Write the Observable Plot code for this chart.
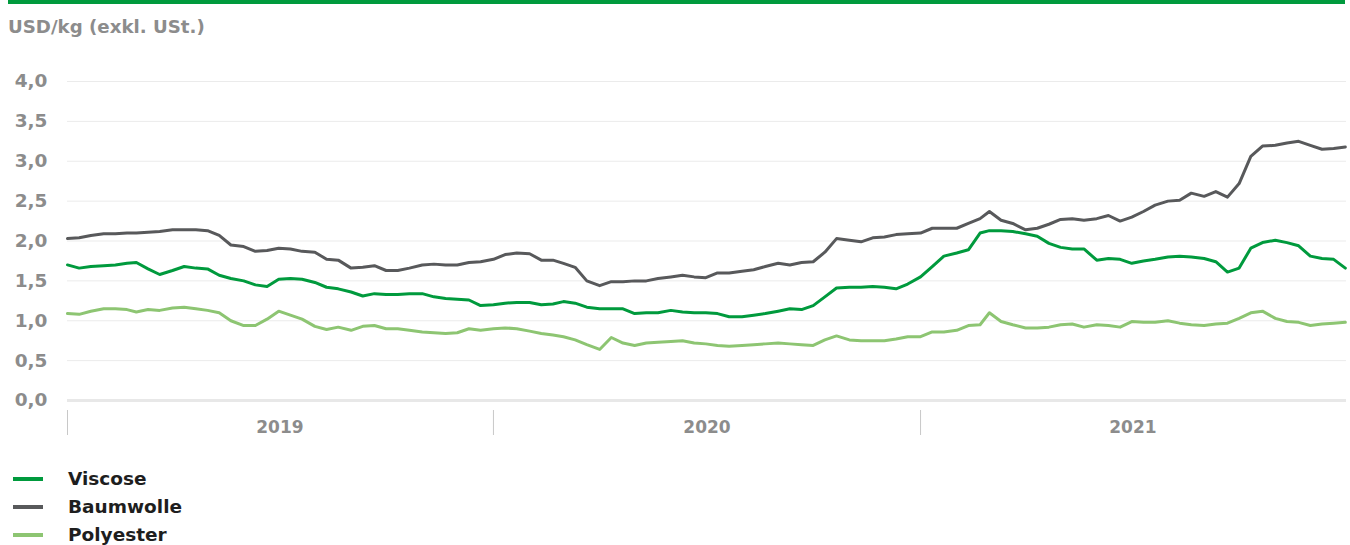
<!DOCTYPE html>
<html>
<head>
<meta charset="utf-8">
<script src="https://cdn.jsdelivr.net/npm/d3@7"></script>
<script src="https://cdn.jsdelivr.net/npm/@observablehq/plot@0.6"></script>
<style>
  html, body { margin: 0; padding: 0; background: #fff; }
  body { width: 1350px; height: 545px; position: relative; overflow: hidden; font-family: "DejaVu Sans", sans-serif; }
  #topbar { position: absolute; left: 8px; top: 0; width: 1337px; height: 4px; background: #009a3d; }
  #title { position: absolute; left: 8px; top: 16px; font-size: 18.2px; line-height: 22px; font-weight: bold; color: #8c8c8c; }
  #chart { position: absolute; left: 0; top: 60px; }
  #legend { position: absolute; left: 0; top: 465px; }
  .item { position: relative; height: 28px; }
  .sw { position: absolute; left: 13px; top: 12px; width: 30px; height: 4px; }
  .lab { position: absolute; left: 68px; top: 1px; font-size: 18.5px; font-weight: bold; color: #1e1e1e; line-height: 26px; }
</style>
</head>
<body>
<div id="topbar"></div>
<div id="title">USD/kg (exkl. USt.)</div>
<div id="chart"></div>
<div id="legend"></div>
<script>
const dates = [
"2019-01-01","2019-01-11","2019-01-21","2019-02-01","2019-02-11","2019-02-21","2019-03-01","2019-03-11","2019-03-21","2019-04-01","2019-04-11","2019-04-21",
"2019-05-01","2019-05-11","2019-05-21","2019-06-01","2019-06-11","2019-06-21","2019-07-01","2019-07-11","2019-07-21","2019-08-01","2019-08-11","2019-08-21",
"2019-09-01","2019-09-11","2019-09-21","2019-10-01","2019-10-11","2019-10-21","2019-11-01","2019-11-11","2019-11-21","2019-12-01","2019-12-11","2019-12-21",
"2020-01-01","2020-01-11","2020-01-21","2020-02-01","2020-02-11","2020-02-21","2020-03-01","2020-03-11","2020-03-21","2020-04-01","2020-04-11","2020-04-21",
"2020-05-01","2020-05-11","2020-05-21","2020-06-01","2020-06-11","2020-06-21","2020-07-01","2020-07-11","2020-07-21","2020-08-01","2020-08-11","2020-08-21",
"2020-09-01","2020-09-11","2020-09-21","2020-10-01","2020-10-11","2020-10-21","2020-11-01","2020-11-11","2020-11-21","2020-12-01","2020-12-11","2020-12-21",
"2021-01-01","2021-01-11","2021-01-21","2021-02-01","2021-02-11","2021-02-21","2021-03-01","2021-03-11","2021-03-21","2021-04-01","2021-04-11","2021-04-21",
"2021-05-01","2021-05-11","2021-05-21","2021-06-01","2021-06-11","2021-06-21","2021-07-01","2021-07-11","2021-07-21","2021-08-01","2021-08-11","2021-08-21",
"2021-09-01","2021-09-11","2021-09-21","2021-10-01","2021-10-11","2021-10-21","2021-11-01","2021-11-11","2021-11-21","2021-12-01","2021-12-11","2021-12-21",
"2021-12-31"
];

const viscose = [
1.70,1.66,1.68,1.69,1.70,1.72,1.73,1.65,1.58,1.63,1.68,1.66,
1.65,1.57,1.53,1.50,1.45,1.43,1.52,1.53,1.52,1.48,1.42,1.40,
1.36,1.31,1.34,1.33,1.33,1.34,1.34,1.30,1.28,1.27,1.26,1.19,
1.20,1.22,1.23,1.23,1.20,1.21,1.24,1.22,1.17,1.15,1.15,1.15,
1.09,1.10,1.10,1.13,1.11,1.10,1.10,1.09,1.05,1.05,1.07,1.09,
1.12,1.15,1.14,1.19,1.30,1.41,1.42,1.42,1.43,1.42,1.40,1.46,
1.55,1.68,1.81,1.85,1.89,2.10,2.13,2.13,2.12,2.09,2.06,1.97,
1.92,1.90,1.90,1.76,1.78,1.77,1.72,1.75,1.77,1.80,1.81,1.80,
1.78,1.74,1.61,1.66,1.91,1.98,2.01,1.98,1.94,1.81,1.78,1.77,
1.66
];

const baumwolle = [
2.03,2.04,2.07,2.09,2.09,2.10,2.10,2.11,2.12,2.14,2.14,2.14,
2.13,2.07,1.95,1.93,1.87,1.88,1.91,1.90,1.87,1.86,1.77,1.76,
1.66,1.67,1.69,1.63,1.63,1.66,1.70,1.71,1.70,1.70,1.73,1.74,
1.77,1.83,1.85,1.84,1.76,1.76,1.72,1.67,1.50,1.44,1.49,1.49,
1.50,1.50,1.53,1.55,1.57,1.55,1.54,1.60,1.60,1.62,1.64,1.68,
1.72,1.70,1.73,1.74,1.86,2.03,2.01,1.99,2.04,2.05,2.08,2.09,
2.10,2.16,2.16,2.16,2.22,2.28,2.37,2.26,2.22,2.14,2.16,2.21,
2.27,2.28,2.26,2.28,2.32,2.25,2.30,2.37,2.45,2.50,2.51,2.60,
2.56,2.62,2.55,2.72,3.06,3.19,3.20,3.23,3.25,3.20,3.15,3.16,
3.18
];

const polyester = [
1.09,1.08,1.12,1.15,1.15,1.14,1.11,1.14,1.13,1.16,1.17,1.15,
1.13,1.10,1.00,0.94,0.94,1.02,1.12,1.07,1.02,0.93,0.89,0.92,
0.88,0.93,0.94,0.90,0.90,0.88,0.86,0.85,0.84,0.85,0.90,0.88,
0.90,0.91,0.90,0.87,0.84,0.82,0.80,0.76,0.70,0.64,0.79,0.72,
0.69,0.72,0.73,0.74,0.75,0.72,0.71,0.69,0.68,0.69,0.70,0.71,
0.72,0.71,0.70,0.69,0.76,0.81,0.76,0.75,0.75,0.75,0.77,0.80,
0.80,0.86,0.86,0.88,0.94,0.95,1.10,0.99,0.95,0.91,0.91,0.92,
0.95,0.96,0.92,0.95,0.94,0.92,0.99,0.98,0.98,1.00,0.97,0.95,
0.94,0.96,0.97,1.03,1.10,1.12,1.03,0.99,0.98,0.94,0.96,0.97,
0.98
];

const seriesNames = ["Viscose", "Baumwolle", "Polyester"];
const seriesColors = ["#009a3d", "#58595b", "#8dc572"];
const yTicks = [0, 0.5, 1, 1.5, 2, 2.5, 3, 3.5, 4];
const yearStarts = ["2019-01-01", "2020-01-01", "2021-01-01"];
const yearLabelPos = ["2019-07-02", "2020-07-02", "2021-07-02"];
const yearLabels = ["2019", "2020", "2021"];

const parse = d3.utcParse("%Y-%m-%d");
const valuesBySeries = [viscose, baumwolle, polyester];
const rows = [];
// draw order: Polyester, Viscose, Baumwolle on top
[2, 0, 1].forEach(si => {
  dates.forEach((d, i) => rows.push({date: parse(d), value: valuesBySeries[si][i], series: seriesNames[si]}));
});

const fmt = v => d3.format(".1f")(v).replace(".", ",");

const chart = Plot.plot({
  width: 1350,
  height: 385,
  marginTop: 21,
  marginLeft: 67,
  marginRight: 4,
  marginBottom: 35,
  insetBottom: 10,
  style: {fontFamily: "'DejaVu Sans', sans-serif", background: "transparent", overflow: "visible"},
  x: {type: "utc", domain: [parse("2019-01-01"), parse("2022-01-01")]},
  y: {domain: [0, 4]},
  color: {domain: seriesNames, range: seriesColors},
  marks: [
    Plot.gridY(yTicks.filter(t => t > 0), {stroke: "#ebebeb", strokeOpacity: 1, strokeWidth: 1}),
    Plot.ruleY([0], {stroke: "#e8e8e8", strokeWidth: 3}),
    Plot.axisY(yTicks, {tickSize: 0, tickPadding: 20, tickFormat: fmt, fontSize: 18.5, fontWeight: "bold", fill: "#8c8c8c", label: null}),
    Plot.axisX(yearStarts.map(parse), {tickSize: 25, tickFormat: () => "", stroke: "#c8c8c8", strokeWidth: 1, label: null}),
    Plot.axisX(yearLabelPos.map(parse), {tickSize: 0, tickPadding: 10, tickFormat: (d, i) => yearLabels[i], fontSize: 17, fontWeight: "bold", fill: "#8c8c8c", label: null}),
    Plot.line(rows, {x: "date", y: "value", z: "series", stroke: "series", strokeWidth: 3, strokeLinejoin: "round", strokeLinecap: "round"})
  ]
});
document.getElementById("chart").appendChild(chart);

const legend = document.getElementById("legend");
seriesNames.forEach((name, i) => {
  const item = document.createElement("div");
  item.className = "item";
  const sw = document.createElement("div");
  sw.className = "sw";
  sw.style.background = seriesColors[i];
  const lab = document.createElement("div");
  lab.className = "lab";
  lab.textContent = name;
  item.appendChild(sw); item.appendChild(lab);
  legend.appendChild(item);
});
</script>
</body>
</html>
